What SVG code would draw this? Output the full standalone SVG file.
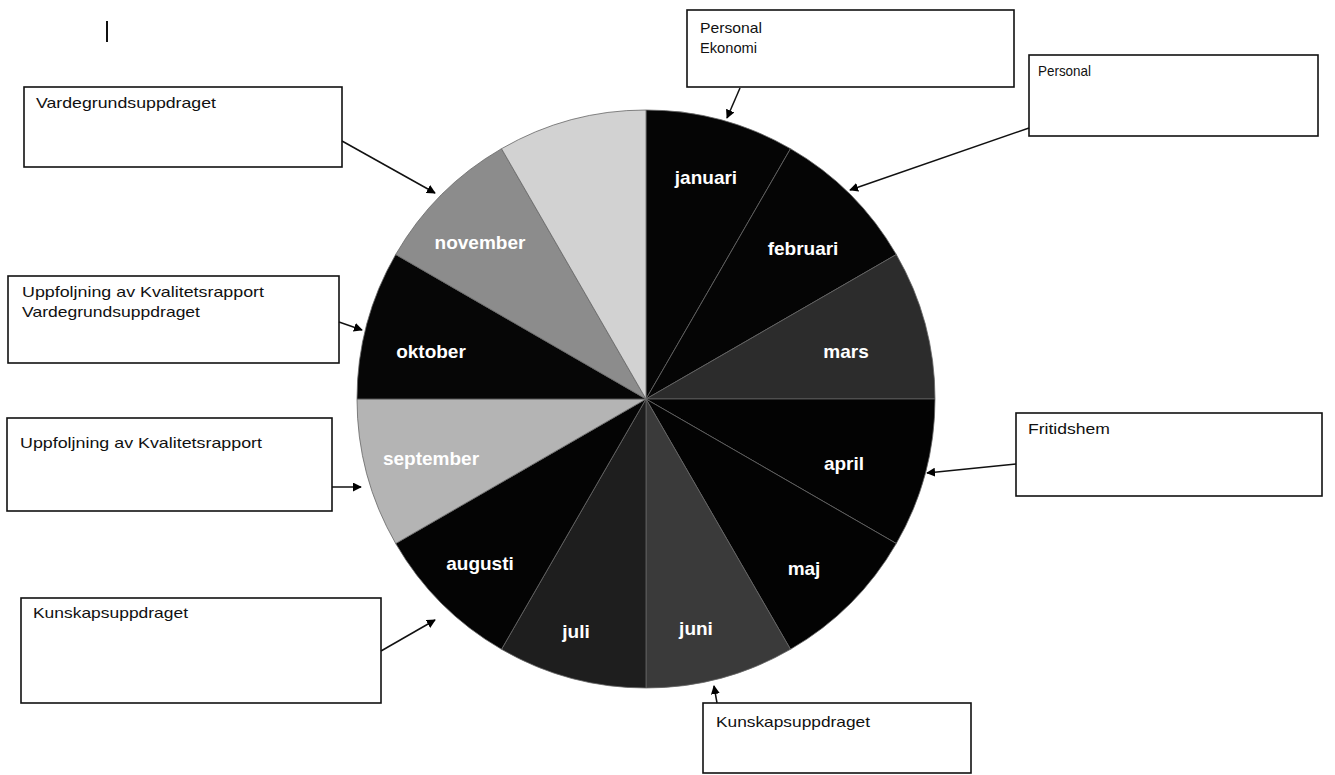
<svg xmlns="http://www.w3.org/2000/svg" width="1335" height="775" viewBox="0 0 1335 775">
  <defs>
    <marker id="arrow" viewBox="0 0 10 10" refX="9" refY="5" markerWidth="9" markerHeight="9" markerUnits="userSpaceOnUse" orient="auto">
      <path d="M0,0 L10,5 L0,10 z" fill="#000"/>
    </marker>
  </defs>
  <style>
    .box { fill: #fff; stroke: #111; stroke-width: 1.6; }
    .btxt { font-family: "Liberation Sans", Arial, sans-serif; font-size: 15px; fill: #111; }
    .slice { stroke: #666; stroke-width: 0.8; }
    .mlbl { font-family: "Liberation Sans", Arial, sans-serif; font-size: 19px; font-weight: bold; fill: #fff; text-anchor: middle; }
    .conn { stroke: #111; stroke-width: 1.5; fill: none; marker-end: url(#arrow); }
  </style>
  <rect width="1335" height="775" fill="#fff"/>
  <line x1="107" y1="21" x2="107" y2="42" stroke="#111" stroke-width="2"/>

  <g id="pie">
    <path class="slice" fill="#050505" d="M646,399 L646,110 A289,289 0 0 1 790.5,148.7 Z"/>
    <path class="slice" fill="#050505" d="M646,399 L790.5,148.7 A289,289 0 0 1 896.3,254.5 Z"/>
    <path class="slice" fill="#2c2c2c" d="M646,399 L896.3,254.5 A289,289 0 0 1 935,399 Z"/>
    <path class="slice" fill="#030303" d="M646,399 L935,399 A289,289 0 0 1 896.3,543.5 Z"/>
    <path class="slice" fill="#030303" d="M646,399 L896.3,543.5 A289,289 0 0 1 790.5,649.3 Z"/>
    <path class="slice" fill="#3a3a3a" d="M646,399 L790.5,649.3 A289,289 0 0 1 646,688 Z"/>
    <path class="slice" fill="#1e1e1e" d="M646,399 L646,688 A289,289 0 0 1 501.5,649.3 Z"/>
    <path class="slice" fill="#040404" d="M646,399 L501.5,649.3 A289,289 0 0 1 395.7,543.5 Z"/>
    <path class="slice" fill="#b4b4b4" d="M646,399 L395.7,543.5 A289,289 0 0 1 357,399 Z"/>
    <path class="slice" fill="#060606" d="M646,399 L357,399 A289,289 0 0 1 395.7,254.5 Z"/>
    <path class="slice" fill="#8c8c8c" d="M646,399 L395.7,254.5 A289,289 0 0 1 501.5,148.7 Z"/>
    <path class="slice" fill="#d2d2d2" d="M646,399 L501.5,148.7 A289,289 0 0 1 646,110 Z"/>
    <text class="mlbl" x="706" y="184">januari</text>
    <text class="mlbl" x="803" y="255">februari</text>
    <text class="mlbl" x="846" y="358">mars</text>
    <text class="mlbl" x="844" y="470">april</text>
    <text class="mlbl" x="804" y="575">maj</text>
    <text class="mlbl" x="696" y="635">juni</text>
    <text class="mlbl" x="576" y="638">juli</text>
    <text class="mlbl" x="480" y="570">augusti</text>
    <text class="mlbl" x="431" y="465">september</text>
    <text class="mlbl" x="431" y="358">oktober</text>
    <text class="mlbl" x="480" y="249">november</text>
  </g>

  <g id="box-vardegrund">
    <rect class="box" x="24" y="87" width="318" height="80"/>
    <text class="btxt" x="36" y="108" textLength="180" lengthAdjust="spacingAndGlyphs">Vardegrundsuppdraget</text>
  </g>
  <g id="box-personal-ekonomi">
    <rect class="box" x="687" y="10" width="327" height="77"/>
    <text class="btxt" x="700" y="33" textLength="62" lengthAdjust="spacingAndGlyphs">Personal</text>
    <text class="btxt" x="700" y="53" textLength="57" lengthAdjust="spacingAndGlyphs">Ekonomi</text>
  </g>
  <g id="box-personal">
    <rect class="box" x="1029" y="55" width="289" height="81"/>
    <text class="btxt" x="1038" y="76" textLength="53" lengthAdjust="spacingAndGlyphs">Personal</text>
  </g>
  <g id="box-uppf-varde">
    <rect class="box" x="8" y="276" width="331" height="87"/>
    <text class="btxt" x="22" y="297" textLength="242" lengthAdjust="spacingAndGlyphs">Uppfoljning av Kvalitetsrapport</text>
    <text class="btxt" x="22" y="317" textLength="178" lengthAdjust="spacingAndGlyphs">Vardegrundsuppdraget</text>
  </g>
  <g id="box-uppf">
    <rect class="box" x="7" y="418" width="325" height="93"/>
    <text class="btxt" x="20" y="448" textLength="242" lengthAdjust="spacingAndGlyphs">Uppfoljning av Kvalitetsrapport</text>
  </g>
  <g id="box-kunskap-left">
    <rect class="box" x="21" y="598" width="360" height="105"/>
    <text class="btxt" x="33" y="618" textLength="155" lengthAdjust="spacingAndGlyphs">Kunskapsuppdraget</text>
  </g>
  <g id="box-fritidshem">
    <rect class="box" x="1016" y="413" width="306" height="83"/>
    <text class="btxt" x="1028" y="434" textLength="82" lengthAdjust="spacingAndGlyphs">Fritidshem</text>
  </g>
  <g id="box-kunskap-bottom">
    <rect class="box" x="703" y="703" width="268" height="70"/>
    <text class="btxt" x="716" y="727" textLength="154" lengthAdjust="spacingAndGlyphs">Kunskapsuppdraget</text>
  </g>

  <g id="connectors">
    <line class="conn" x1="342" y1="141" x2="435" y2="193"/>
    <line class="conn" x1="740" y1="88" x2="727" y2="118"/>
    <line class="conn" x1="1029" y1="128" x2="850" y2="190"/>
    <line class="conn" x1="339" y1="322" x2="362" y2="330"/>
    <line class="conn" x1="332" y1="487" x2="361" y2="487"/>
    <line class="conn" x1="381" y1="651" x2="435" y2="620"/>
    <line class="conn" x1="1016" y1="464" x2="927" y2="473"/>
    <line class="conn" x1="717" y1="703" x2="714" y2="686"/>
  </g>
</svg>
